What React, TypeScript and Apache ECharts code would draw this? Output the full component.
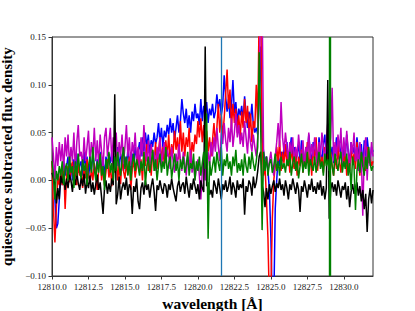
import React, { useEffect, useRef } from "react";
import * as echarts from "echarts";

// Wavelength grid of the spectra (Å)
const wavelengthStart = 12810.0;
const wavelengthStep = 0.1;

// Quiescence-subtracted flux density, in units of 1e-3, one value per grid point
const blueFlux = [
  20, 5, -20, -50, -45, -20, 10, -5, 20, 5,
  15, 25, 5, 18, 0, 22, 10, 28, 8, 15,
  20, 5, 30, 12, 25, 2, 18, 10, 28, 15,
  8, 22, 15, 30, 10, 20, 5, 25, 12, 28,
  18, 30, 10, 25, 15, 35, 12, 28, 20, 10,
  25, 15, 32, 20, 8, 28, 18, 35, 22, 30,
  40, 25, 45, 30, 50, 35, 48, 28, 42, 35,
  50, 38, 45, 60, 40, 55, 35, 52, 45, 58,
  48, 65, 50, 60, 42, 55, 68, 50, 62, 85,
  70, 60, 75, 55, 68, 50, 72, 62, 80, 65,
  70, 58, 85, 62, 78, 70, 82, 60, 75, 68,
  80, 65, 72, 90, 75, 85, 68, 78, 110, 88,
  72, 85, 65, 78, 105, 70, 82, 60, 75, 68,
  78, 62, 88, 70, 55, 72, 62, 80, 58, 50,
  55, 48, 90, 140, 45, 30, 20, 25, 10, -10,
  -60, -130, -130, -30, 0, 25, 15, 30, 20, 35,
  25, 40, 18, 30, 45, 22, 35, 15, 28, 38,
  20, 42, 28, 15, 35, 25, 48, 30, 18, 40,
  25, 35, 15, 45, 28, 20, 38, 48, 22, 30,
  40, 25, 35, 18, 30, 45, 22, 38, 28, 15,
  35, 25, 48, 30, 18, 40, 28, 35, 20, 45,
  30, 22, 38, 15, 42, 25, 45, 30, 20, 35,
  30,
];

const redFlux = [
  20, -30, -65, -30, 5, -5, 10, -5, 15, -30,
  5, 15, -2, 10, 20, 0, 12, -5, 18, 5,
  10, -8, 15, 2, 22, 8, -4, 12, 0, 18,
  5, -10, 12, 25, 0, 15, -5, 10, 22, 3,
  14, -6, 20, 8, 28, 0, 15, -4, 25, 10,
  2, 18, 6, 25, -10, 12, 20, 3, 15, 28,
  8, 22, 0, 30, 15, 38, 10, 25, 5, 32,
  18, 40, 12, 30, 45, 20, 35, 15, 42, 25,
  48, 20, 38, 28, 52, 32, 45, 22, 62, 30,
  50, 25, 45, 35, 55, 18, 40, 30, 48, 38,
  62, 45, 65, 40, 58, 35, 52, 30, 45, 25,
  42, 60, 38, 55, 80, 50, 70, 45, 65, 90,
  116, 75, 95, 55, 80, 60, 75, 50, 68, 45,
  72, 55, 85, 60, 78, 48, 70, 40, 62, 55,
  100, 60, 180, 200, 40, 5, 15, -20, -60, -130,
  -120, -40, 0, 15, 35, 20, 42, 10, 30, 18,
  38, 15, 28, 8, 35, 20, 12, 30, 5, 25,
  15, 32, 8, 25, 18, 40, 12, 28, 5, 35,
  20, 45, 10, 30, 15, 25, 8, 35, 18, 28,
  10, 30, 15, 5, 25, 12, 38, 20, 8, 28,
  15, 32, 5, 22, 10, 35, 18, 28, 12, 40,
  20, 5, 30, 15, 25, 10, 35, 18, 28, 15,
  20,
];

const magentaFlux = [
  45, 25, 0, 35, 15, 40, 20, 38, 10, 45,
  25, 48, 15, 35, 20, 50, 10, 40, 58, 25,
  30, 15, 45, 20, 35, 52, 18, 40, 25, 55,
  20, 42, 15, 48, 30, 12, 45, 55, 25, 40,
  55, 20, 45, 30, 50, 15, 40, 25, 48, 18,
  35, 58, 25, 45, 15, 40, 28, 50, 20, 35,
  12, 45, 25, 58, 30, 20, 42, 15, 38, 25,
  30, 10, 35, 22, 45, 15, 28, 40, 18, 32,
  25, 12, 35, 20, 8, 28, 15, 38, 22, 10,
  30, 18, 5, 25, 12, 32, 8, 20, 0, 15,
  22, 5, -20, 10, 28, 0, 18, 30, 15, 40,
  25, 45, 30, 55, 35, 20, 50, 38, 60, 42,
  30, 55, 40, 65, 35, 50, 70, 45, 58, 38,
  50, 35, 62, 45, 28, 55, 40, 30, 48, 35,
  25, 45, 90, 200, 190, 30, 15, 25, 10, 20,
  30, 15, 5, 25, 40, 60, 35, 82, 45, 30,
  50, 35, 22, 40, 28, 45, 18, 35, 25, 48,
  30, 20, 42, 15, 35, 28, 50, 22, 38, 25,
  45, 30, 15, 40, 25, 50, 35, 20, 42, 60,
  30, 45, 97, 20, 40, 25, 48, 30, 55, 18,
  45, 25, 52, 30, 15, 40, 28, 50, 20, 35,
  10, 40, 25, -37, 30, 45, 0, 35, 15, 40,
  25,
];

const blackFlux = [
  8, 2, -5, -24, -8, -20, 5, -3, 6, -10,
  2, -8, 6, 0, -12, 4, -5, 8, -3, -10,
  3, -6, 7, -14, 0, -8, 5, -12, -2, -15,
  -4, 6, -10, -2, -18, -35, -8, 0, -14, -3,
  -12, 2, -5, 90, -25, -15, 4, -20, -8, -2,
  -10, 3, -16, -4, -8, -35, -6, -12, 2, -22,
  -30, -8, -2, -15, 0, -10, -4, -18, -6, 2,
  -12, -32, -5, -10, 0, -8, -14, -3, -6, -18,
  -4, -10, 2, -8, -15, -22, -6, 0, -12, -5,
  -2, -14, 4, -8, -18, -3, -10, 2, -6, -14,
  -4, -20, 0, -8, -12, 140, -6, -2, -15, -10,
  -18, 0, -6, -14, 2, -8, -20, -4, -10, 0,
  -12, -6, 4, -15, -2, -8, -18, 0, -10, -4,
  -8, 2, -36, -6, -12, 0, -4, -16, 4, -8,
  -2, 10, 25, 30, -5, -12, -28, -8, -20, -4,
  -14, -6, 0, -12, -3, -8, 2, -10, -4, -16,
  0, -8, -20, -4, -10, 2, -6, -14, -2, -10,
  -33, -6, -12, 0, -8, -18, -4, -10, 2, -12,
  -6, -14, -2, -10, 0, -16, -6, -20, -8, 105,
  -40, -10, -2, -12, -4, -16, 0, -8, -18, -6,
  -10, -2, -20, -6, -28, -12, -4, -14, -8, -2,
  -16, -6, -22, -10, -30, -14, -54, -20, -8, -24,
  -10,
];

const greenFlux = [
  20, 5, -20, 10, 0, 15, 5, 20, -5, 12,
  18, 0, 25, 8, 15, -8, 20, 5, 28, 10,
  2, 22, 10, 18, -5, 15, 25, 8, 35, 12,
  0, 20, 8, 28, 5, 15, -10, 22, 12, 30,
  8, 18, 0, 25, 10, 30, 15, 5, 22, 35,
  12, 25, 5, 20, 0, 18, 28, 10, 22, 15,
  5, 20, 10, 30, -5, 15, 25, 8, 18, 32,
  10, 22, 0, 15, 28, 8, 20, 12, 35, 5,
  18, 25, 2, 15, 28, 10, 20, 0, 22, 12,
  25, 8, 15, 30, 5, 18, 12, 28, 0, 20,
  10, 25, 5, 18, 30, 12, 70, -61, 20, 5,
  15, 25, 8, 30, 18, 10, 35, 5, 22, 15,
  28, 12, 20, 5, 25, 15, 32, 8, 18, 10,
  22, 5, 28, 15, 8, 25, 12, 30, 18, 10,
  20, 35, 134, 60, -52, 30, 10, 25, 5, 18,
  22, 8, 15, 28, 10, 20, 5, 25, 12, 18,
  8, 22, 15, 30, 5, 18, 25, 10, 20, 2,
  15, 28, 8, 20, 12, 30, 5, 22, 15, 10,
  25, 8, 18, 30, 12, 20, 5, 28, 15, 22,
  10, 25, 15, 5, 28, 18, 10, 22, 30, 8,
  20, 12, 28, 5, 18, -10, 25, 15, -31, 10,
  22, 8, 30, 15, 5, 25, 12, 35, 18, 10,
  15,
];

// Vertical reference lines (Å)
const blueMarker = 12821.6;
const greenMarker = 12829.04;

// Axis ticks
const xTicks = [12810, 12812.5, 12815, 12817.5, 12820, 12822.5, 12825, 12827.5, 12830];
const yTicks = [-0.1, -0.05, 0, 0.05, 0.1, 0.15];

const toPairs = (arr: number[]) =>
  arr.map((v, i) => [Number((wavelengthStart + i * wavelengthStep).toFixed(2)), v / 1000]);

const FONT = "'Liberation Serif', 'DejaVu Serif', serif";

export default function App() {
  const ref = useRef<HTMLDivElement>(null);
  useEffect(() => {
    if (!ref.current) return;
    const chart = echarts.init(ref.current, undefined, { renderer: "svg" });
    const mk = (name: string, color: string, arr: number[], extra: any = {}) => ({
      name,
      type: "line",
      data: toPairs(arr),
      showSymbol: false,
      clip: true,
      lineStyle: { color, width: 1.5 },
      itemStyle: { color },
      silent: true,
      ...extra,
    });
    chart.setOption({
      animation: false,
      backgroundColor: "#ffffff",
      grid: {
        left: 52,
        right: 42,
        top: 37,
        bottom: 35,
        containLabel: false,
        outerBoundsMode: "none",
        show: true,
        borderColor: "#333",
        borderWidth: 1,
        backgroundColor: "transparent",
      },
      xAxis: {
        type: "value",
        min: 12810,
        max: 12832,
        interval: 2.5,
        name: "wavelength [Å]",
        nameLocation: "middle",
        nameGap: 18,
        nameTextStyle: { fontFamily: FONT, fontWeight: "bold", fontSize: 15.5, color: "#000" },
        axisLine: { show: true, onZero: false, lineStyle: { color: "#333", width: 1 } },
        axisTick: {
          show: true,
          inside: false,
          length: 3.5,
          lineStyle: { color: "#333" },
          customValues: xTicks,
        },
        axisLabel: {
          fontFamily: FONT,
          fontSize: 9,
          color: "#222",
          margin: 6,
          customValues: xTicks,
          formatter: (v: number) => v.toFixed(1),
        },
        splitLine: { show: false },
      },
      yAxis: {
        type: "value",
        min: -0.1,
        max: 0.15,
        interval: 0.05,
        name: "quiescence subtracted flux density",
        nameLocation: "middle",
        nameRotate: 90,
        nameGap: 32,
        nameTextStyle: { fontFamily: FONT, fontWeight: "bold", fontSize: 15, lineHeight: 15, color: "#000" },
        axisLine: { show: true, onZero: false, lineStyle: { color: "#333", width: 1 } },
        axisTick: {
          show: true,
          inside: false,
          length: 3.5,
          lineStyle: { color: "#333" },
          customValues: yTicks,
        },
        axisLabel: {
          fontFamily: FONT,
          fontSize: 9,
          color: "#222",
          margin: 6,
          customValues: yTicks,
          formatter: (v: number) => (v < -1e-9 ? "\u2212" + Math.abs(v).toFixed(2) : Math.abs(v).toFixed(2)),
        },
        splitLine: { show: false },
      },
      series: [
        mk("blue", "#0000ff", blueFlux),
        mk("red", "#ff0000", redFlux),
        mk("magenta", "#bf00bf", magentaFlux),
        mk("black", "#000000", blackFlux),
        mk("green", "#008000", greenFlux, {
          markLine: {
            silent: true,
            symbol: "none",
            label: { show: false },
            animation: false,
            data: [
              { xAxis: blueMarker, lineStyle: { color: "#1f77b4", width: 1.3, type: "solid" } },
              { xAxis: greenMarker, lineStyle: { color: "#008000", width: 2.4, type: "solid" } },
            ],
          },
        }),
      ],
    });
    return () => chart.dispose();
  }, []);
  return (
    <div
      ref={ref}
      style={{ position: "fixed", left: 0, top: 0, width: 415, height: 311, background: "#fff" }}
    />
  );
}
